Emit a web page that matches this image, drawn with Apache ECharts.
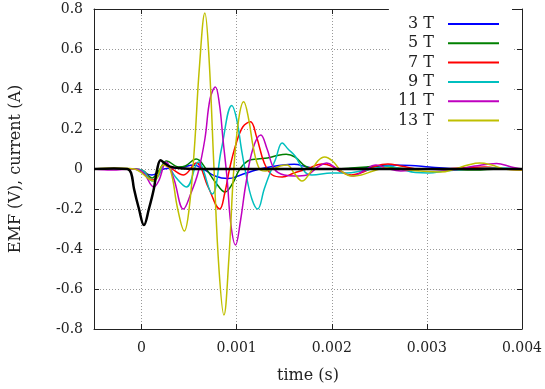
<!DOCTYPE html>
<html lang="en">
<head>
  <meta charset="UTF-8">
  <title>EMF and currents</title>
  <script src="https://cdn.jsdelivr.net/npm/echarts/dist/echarts.min.js"></script>
</head>
<body style="margin:0">
  <div id="main" style="width:545px;height:389px"></div>
  <script>
    // time in ms, value in V (EMF) or A (currents)
    const xTicks = [0, 0.001, 0.002, 0.003, 0.004];
    const names = ['3 T', '5 T', '7 T', '9 T', '11 T', '13 T'];
    const colors = ['#0000ff', '#008000', '#ff0000', '#00bfbf', '#bf00bf', '#bfbf00'];

    const emf = [[-0.5,0],[-0.29,0.003],[-0.15,0],[-0.11,-0.02],[-0.079,-0.1],[-0.027,-0.2],[0.025,-0.28],
      [0.077,-0.2],[0.129,-0.1],[0.165,0],[0.2,0.044],[0.24,0.03],[0.3,0.012],[0.45,0.003],[0.6,0],[4,0]];

    const cur3 = [[-0.5,0],[-0.08,0],[0.025,-0.02],[0.108,-0.03],[0.233,0],[0.337,0.005],[0.44,0.01],[0.544,0.02],
      [0.648,0],[0.772,-0.035],[0.908,-0.048],[1.043,-0.03],[1.168,-0.01],[1.292,0.005],[1.427,0.016],[1.604,0.024],
      [1.739,0.01],[1.895,0],[2.101,0],[2.31,0.005],[2.466,0.012],[2.643,0.02],[2.83,0.018],[3.028,0.01],
      [3.245,0.003],[3.556,0],[4,0]];

    const cur5 = [[-0.5,0],[-0.08,0],[0.02,-0.01],[0.11,-0.045],[0.18,-0.01],[0.264,0.04],[0.39,0.01],[0.46,0.015],
      [0.575,0.05],[0.679,0],[0.783,-0.07],[0.877,-0.115],[0.96,-0.07],[1.033,0],[1.116,0.04],[1.22,0.05],
      [1.324,0.055],[1.427,0.068],[1.521,0.074],[1.614,0.06],[1.718,0.015],[1.811,0],[1.998,0],[2.206,0.005],
      [2.362,0.01],[2.487,0.015],[2.674,0.005],[2.934,0],[3.245,-0.003],[3.505,-0.005],[3.765,0],[4,0]];

    const cur7 = [[-0.5,0],[-0.08,0],[0.02,-0.01],[0.11,-0.055],[0.18,-0.03],[0.233,0.02],[0.32,0],[0.44,-0.03],
      [0.575,0.03],[0.7,-0.09],[0.822,-0.2],[0.875,-0.12],[0.925,0],[0.99,0.12],[1.064,0.21],[1.144,0.236],
      [1.21,0.16],[1.29,0.03],[1.375,-0.03],[1.479,-0.04],[1.604,-0.02],[1.739,0],[1.895,0.025],[1.998,0.015],
      [2.1,-0.015],[2.206,-0.03],[2.331,-0.015],[2.466,0.015],[2.59,0.025],[2.726,0.015],[2.934,0],[3.142,0],
      [3.349,0.005],[3.609,0.01],[3.816,0],[4,-0.005]];

    const cur9 = [[-0.5,0],[-0.08,0],[0.02,-0.01],[0.11,-0.06],[0.17,-0.04],[0.253,0.03],[0.357,-0.04],[0.472,-0.09],
      [0.596,0.035],[0.742,-0.125],[0.84,0.1],[0.949,0.318],[1.0,0.25],[1.05,0.1],[1.1,-0.03],[1.16,-0.15],
      [1.22,-0.2],[1.29,-0.1],[1.34,-0.034],[1.41,0.05],[1.479,0.13],[1.54,0.1],[1.614,0.065],[1.72,-0.016],
      [1.79,-0.03],[1.998,-0.02],[2.153,-0.02],[2.31,-0.01],[2.466,0.005],[2.6,0.015],[2.726,0],[2.882,-0.018],
      [3.017,-0.02],[3.194,-0.01],[3.453,0],[3.765,0.005],[4,0]];

    const cur11 = [[-0.5,0],[-0.32,-0.005],[-0.08,0],[0.02,-0.02],[0.13,-0.09],[0.18,-0.06],[0.26,0.035],
      [0.34,-0.05],[0.44,-0.2],[0.52,-0.12],[0.596,-0.015],[0.666,0.15],[0.72,0.35],[0.776,0.41],[0.82,0.32],
      [0.856,0.15],[0.9,-0.05],[0.94,-0.28],[0.988,-0.38],[1.04,-0.26],[1.095,-0.08],[1.17,0.1],[1.254,0.17],
      [1.32,0.1],[1.396,0],[1.5,-0.03],[1.614,-0.035],[1.74,-0.03],[1.853,0.01],[1.946,0.03],[2.06,0],
      [2.23,-0.035],[2.33,-0.01],[2.466,0.02],[2.57,0.005],[2.726,-0.01],[2.934,0],[3.245,-0.005],[3.505,0.015],
      [3.733,0.028],[3.889,0.01],[4,0]];

    const cur13 = [[-0.5,0],[-0.29,0.005],[-0.08,0],[0.13,-0.06],[0.23,0.02],[0.3,0],[0.38,-0.2],[0.45,-0.31],
      [0.5,-0.2],[0.555,0.1],[0.607,0.5],[0.666,0.78],[0.71,0.55],[0.762,0],[0.814,-0.5],[0.866,-0.73],
      [0.918,-0.45],[0.97,0],[1.022,0.25],[1.074,0.336],[1.126,0.25],[1.178,0.1],[1.24,0],[1.3,-0.01],
      [1.375,0],[1.458,0.015],[1.531,0.02],[1.604,-0.02],[1.687,-0.06],[1.77,-0.02],[1.853,0.04],[1.926,0.06],
      [2.008,0.04],[2.1,-0.01],[2.206,-0.035],[2.31,-0.03],[2.435,-0.01],[2.57,0.005],[2.726,0],[2.934,-0.01],
      [3.142,-0.015],[3.297,0],[3.432,0.02],[3.556,0.03],[3.682,0.02],[3.816,0],[4,-0.005]];

    const currents = [cur3, cur5, cur7, cur9, cur11, cur13];

    const toSec = arr => arr.map(p => [p[0] / 1000, p[1]]);
    const font = 'DejaVu Serif';
    const ink = '#222';

    const frameX = {
      type: 'value', min: -0.0005, max: 0.004,
      axisLine: { onZero: false, lineStyle: { color: ink } },
      axisTick: { inside: true, length: 5, customValues: xTicks, lineStyle: { color: ink } }
    };
    const frameY = {
      type: 'value', min: -0.8, max: 0.8, interval: 0.2,
      axisLine: { onZero: false, lineStyle: { color: ink } },
      axisTick: { inside: true, length: 5, lineStyle: { color: ink } }
    };
    const grid = { type: [1, 2], color: '#999', width: 1 };

    let series = currents.map((d, i) => ({
      name: names[i], type: 'line', data: toSec(d), smooth: 0.4,
      symbol: 'none', color: colors[i], lineStyle: { width: 1.5, color: colors[i] }
    }));
    series.push({
      name: 'EMF', type: 'line', data: toSec(emf), smooth: 0.4, z: 3,
      symbol: 'none', color: '#000', lineStyle: { width: 2.5, color: '#000' }
    });

    let myChart = echarts.init(document.getElementById('main'));
    myChart.setOption({
      animation: false,
      grid: { left: 90, right: 22, top: 9, bottom: 58 },
      xAxis: [
        Object.assign({}, frameX, {
          position: 'bottom',
          axisLabel: { customValues: xTicks, margin: 12, color: ink, fontFamily: font, fontSize: 14,
            formatter: v => String(v) },
          splitLine: { show: true, lineStyle: grid },
          name: 'time (s)', nameLocation: 'middle', nameGap: 39,
          nameTextStyle: { color: ink, fontFamily: font, fontSize: 16 }
        }),
        Object.assign({}, frameX, { position: 'top', axisLabel: { show: false }, splitLine: { show: false } })
      ],
      yAxis: [
        Object.assign({}, frameY, {
          position: 'left',
          axisLabel: { margin: 11, color: ink, fontFamily: font, fontSize: 14,
            formatter: v => String(+v.toFixed(1)) },
          splitLine: { show: true, lineStyle: grid },
          name: 'EMF (V), current (A)', nameLocation: 'middle', nameGap: 70,
          nameTextStyle: { color: ink, fontFamily: font, fontSize: 16 }
        }),
        Object.assign({}, frameY, { position: 'right', axisLabel: { show: false }, splitLine: { show: false } })
      ],
      legend: {
        data: names, orient: 'vertical', right: 33, top: 9, align: 'right',
        icon: 'rect', itemWidth: 51, itemHeight: 2, itemGap: 3.3,
        backgroundColor: '#fff', padding: [7, 13, 3, 9],
        textStyle: { color: ink, fontFamily: font, fontSize: 16, lineHeight: 16, padding: [0, 9, 0, 0] }
      },
      series: series
    });
  </script>
</body>
</html>
